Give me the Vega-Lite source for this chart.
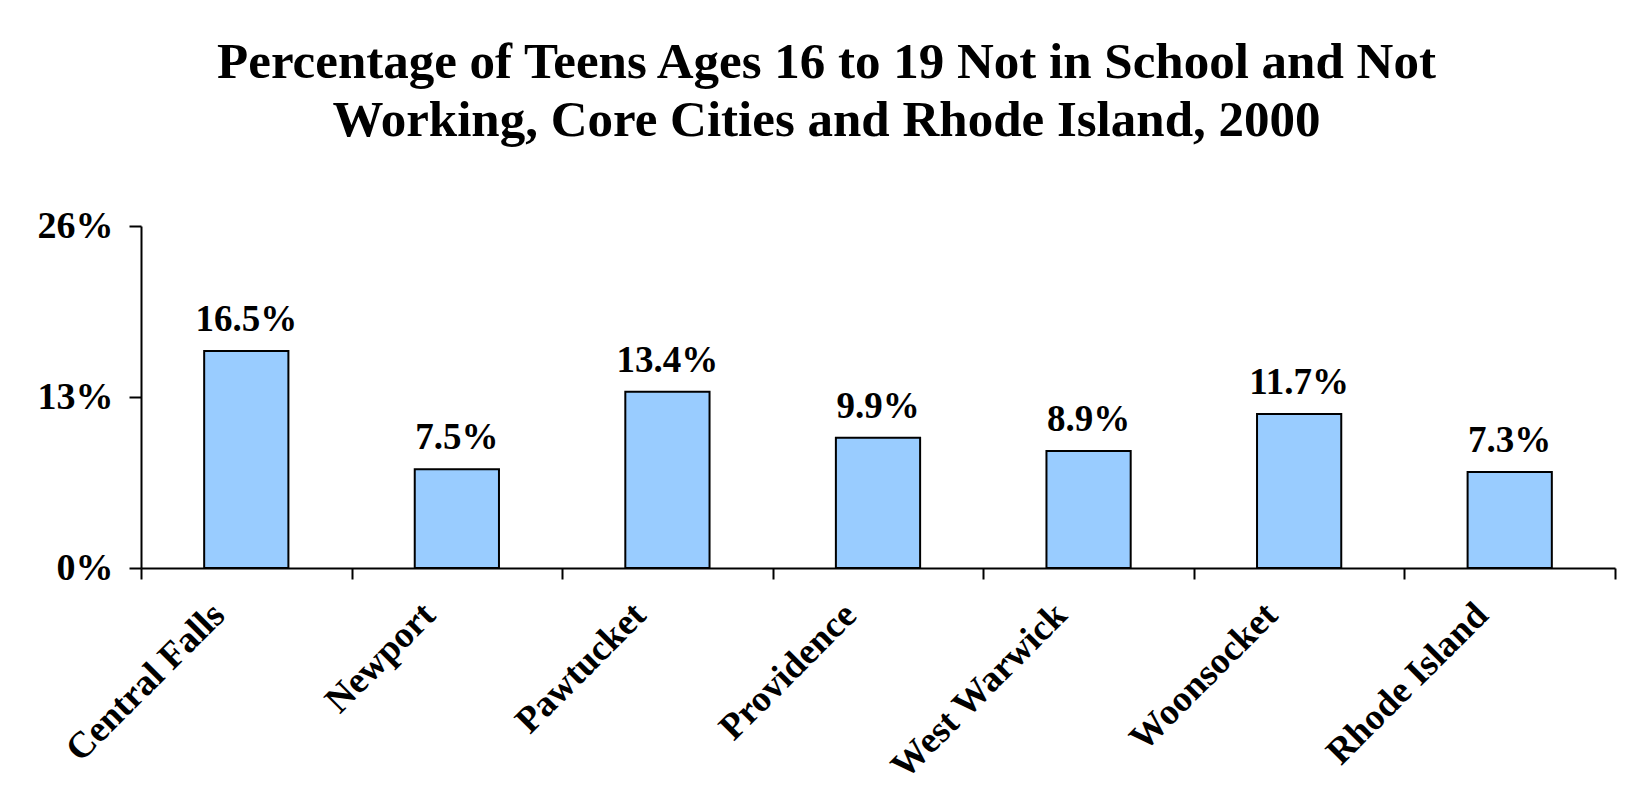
{
  "$schema": "https://vega.github.io/schema/vega-lite/v6.json",
  "width": 1474,
  "height": 342,
  "autosize": {"type": "none"},
  "padding": {"left": 141, "top": 226, "right": 17, "bottom": 243},
  "background": "white",
  "title": {
    "text": ["Percentage of Teens Ages 16 to 19 Not in School and Not", "Working, Core Cities and Rhode Island, 2000"],
    "font": "Liberation Serif",
    "fontSize": 51,
    "fontWeight": "bold",
    "color": "black",
    "lineHeight": 58,
    "anchor": "middle",
    "frame": "bounds",
    "offset": 60
  },
  "data": {
    "values": [
      {"place": "Central Falls", "share": 0.165},
      {"place": "Newport", "share": 0.075},
      {"place": "Pawtucket", "share": 0.134},
      {"place": "Providence", "share": 0.099},
      {"place": "West Warwick", "share": 0.089},
      {"place": "Woonsocket", "share": 0.117},
      {"place": "Rhode Island", "share": 0.073}
    ]
  },
  "encoding": {
    "x": {
      "field": "place",
      "type": "nominal",
      "sort": null,
      "scale": {"paddingInner": 0, "paddingOuter": 0},
      "axis": {
        "title": null,
        "tickBand": "extent",
        "labelAngle": -45,
        "labelAlign": "right",
        "labelBaseline": "middle",
        "labelPadding": 30,
        "labelOffset": -28,
        "labelLimit": 0,
        "labelFont": "Liberation Serif",
        "labelFontSize": 37,
        "labelFontWeight": "bold",
        "labelColor": "black",
        "tickSize": 11,
        "tickWidth": 2,
        "tickColor": "black",
        "domainColor": "black",
        "domainWidth": 2,
        "grid": false
      }
    },
    "y": {
      "field": "share",
      "type": "quantitative",
      "scale": {"domain": [0, 0.26], "nice": false},
      "axis": {
        "title": null,
        "values": [0, 0.13, 0.26],
        "format": ".0%",
        "labelFont": "Liberation Serif",
        "labelFontSize": 38,
        "labelFontWeight": "bold",
        "labelColor": "black",
        "labelPadding": 16,
        "tickSize": 12,
        "tickWidth": 2,
        "tickColor": "black",
        "domainColor": "black",
        "domainWidth": 2,
        "grid": false
      }
    }
  },
  "layer": [
    {
      "mark": {"type": "bar", "width": {"band": 0.4}, "color": "#99CCFF", "stroke": "black", "strokeWidth": 2}
    },
    {
      "mark": {
        "type": "text",
        "font": "Liberation Serif",
        "fontSize": 37,
        "fontWeight": "bold",
        "color": "black",
        "baseline": "alphabetic",
        "dy": -20
      },
      "encoding": {
        "text": {"field": "share", "type": "quantitative", "format": ".1%"}
      }
    }
  ],
  "config": {"view": {"stroke": null}}
}
